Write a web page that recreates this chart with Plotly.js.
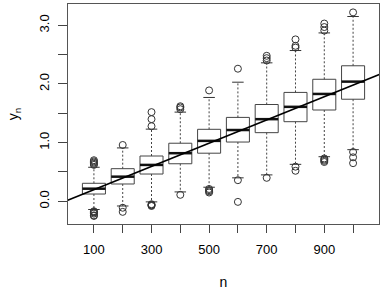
<!DOCTYPE html>
<html>
<head>
<meta charset="utf-8">
<script src="https://cdn.plot.ly/plotly-3.0.1.min.js"></script>
<style>
html,body{margin:0;padding:0;background:#fff;}
#chart{width:382px;height:290px;}
</style>
</head>
<body>
<div id="chart"></div>
<script>
// ---- data ----
const nValues = [100, 200, 300, 400, 500, 600, 700, 800, 900, 1000];
const q1      = [0.124, 0.295, 0.465, 0.640, 0.820, 1.010, 1.170, 1.357, 1.556, 1.740];
const median  = [0.215, 0.420, 0.620, 0.820, 1.030, 1.215, 1.400, 1.610, 1.830, 2.040];
const q3      = [0.307, 0.556, 0.772, 0.990, 1.227, 1.430, 1.650, 1.856, 2.080, 2.310];
const whiskerLow  = [-0.14, -0.08, -0.01, 0.16, 0.24, 0.40, 0.45, 0.63, 0.76, 0.88];
const whiskerHigh = [0.58, 0.91, 1.23, 1.52, 1.77, 2.03, 2.36, 2.57, 2.87, 3.15];
const outliersHigh = [
  [0.62, 0.64, 0.66, 0.68, 0.70],
  [0.96],
  [1.28, 1.40, 1.52],
  [1.57, 1.60, 1.62],
  [1.89],
  [2.26],
  [2.40, 2.44, 2.48],
  [2.62, 2.65, 2.76],
  [2.91, 2.97, 3.03],
  [3.22]
];
const outliersLow = [
  [-0.17, -0.18, -0.19, -0.21, -0.24, -0.25],
  [-0.11, -0.18],
  [-0.05, -0.06, -0.07, -0.08],
  [0.11],
  [0.15, 0.17, 0.19, 0.21],
  [0.36, -0.01],
  [0.40],
  [0.59, 0.52],
  [0.67, 0.69, 0.71, 0.73],
  [0.84, 0.75, 0.65]
];
const regIntercept = 0.0;
const regSlope = 0.00198;
const xTickVals = [100, 300, 500, 700, 900];
const xTickText = ["100", "300", "500", "700", "900"];
const xMinorTickVals = [200, 400, 600, 800, 1000];
const yTickVals = [0, 1, 2, 3];
const yTickText = ["0.0", "1.0", "2.0", "3.0"];
const yMinorTickVals = [0.5, 1.5, 2.5];

// ---- build traces ----
const halfBox = 40, halfCap = 20;
const boxX = [], boxY = [], medX = [], medY = [], whX = [], whY = [], capX = [], capY = [];
const outX = [], outY = [];
nValues.forEach((n, i) => {
  boxX.push(n - halfBox, n + halfBox, n + halfBox, n - halfBox, n - halfBox, null);
  boxY.push(q1[i], q1[i], q3[i], q3[i], q1[i], null);
  medX.push(n - halfBox, n + halfBox, null);
  medY.push(median[i], median[i], null);
  whX.push(n, n, null, n, n, null);
  whY.push(q3[i], whiskerHigh[i], null, q1[i], whiskerLow[i], null);
  capX.push(n - halfCap, n + halfCap, null, n - halfCap, n + halfCap, null);
  capY.push(whiskerHigh[i], whiskerHigh[i], null, whiskerLow[i], whiskerLow[i], null);
  outliersHigh[i].concat(outliersLow[i]).forEach(v => { outX.push(n); outY.push(v); });
});
const lineX = [0, 1100];
const lineY = lineX.map(x => regIntercept + regSlope * x);

const common = {type: 'scatter', mode: 'lines', hoverinfo: 'skip', showlegend: false};
const traces = [
  Object.assign({}, common, {x: whX, y: whY, line: {color: '#444', width: 1, dash: '2px,2px'}}),
  Object.assign({}, common, {x: capX, y: capY, line: {color: '#333', width: 1}}),
  Object.assign({}, common, {x: boxX, y: boxY, line: {color: '#444', width: 1}}),
  Object.assign({}, common, {x: medX, y: medY, line: {color: '#111', width: 2.5}}),
  {type: 'scatter', mode: 'markers', x: outX, y: outY, showlegend: false, hoverinfo: 'skip',
   marker: {symbol: 'circle-open', size: 7, color: '#333', line: {width: 1, color: '#333'}}},
  Object.assign({}, common, {x: lineX, y: lineY, line: {color: '#000', width: 1.6}})
];

const font = {family: '"Liberation Sans", Arial, Helvetica, sans-serif', size: 13, color: '#000'};
const layout = {
  width: 382, height: 290,
  margin: {l: 68, r: 3, t: 4, b: 66},
  paper_bgcolor: '#fff', plot_bgcolor: '#fff',
  font: font,
  showlegend: false,
  xaxis: {
    range: [10, 1090],
    tickmode: 'array', tickvals: xTickVals, ticktext: xTickText,
    ticks: 'outside', ticklen: 8, tickwidth: 1, tickcolor: '#444',
    minor: {tickmode: 'array', tickvals: xMinorTickVals, ticks: 'outside', ticklen: 8, tickwidth: 1, tickcolor: '#444', showgrid: false},
    ticklabelstandoff: 5,
    showgrid: false, zeroline: false,
    showline: true, mirror: true, linecolor: '#555', linewidth: 1,
    tickfont: font,
    title: {text: 'n', font: {family: font.family, size: 14, color: '#000'}, standoff: 36}
  },
  yaxis: {
    range: [-0.387, 3.363],
    tickmode: 'array', tickvals: yTickVals, ticktext: yTickText,
    tickangle: -90,
    ticks: 'outside', ticklen: 9, tickwidth: 1, tickcolor: '#444',
    minor: {tickmode: 'array', tickvals: yMinorTickVals, ticks: 'outside', ticklen: 9, tickwidth: 1, tickcolor: '#444', showgrid: false},
    ticklabelstandoff: 4,
    showgrid: false, zeroline: false,
    showline: true, mirror: true, linecolor: '#555', linewidth: 1,
    tickfont: font,
    title: {text: 'y<sub>n</sub>', font: {family: font.family, size: 14, color: '#000'}, standoff: 14}
  }
};

Plotly.newPlot('chart', traces, layout, {staticPlot: true, displayModeBar: false});
</script>
</body>
</html>
